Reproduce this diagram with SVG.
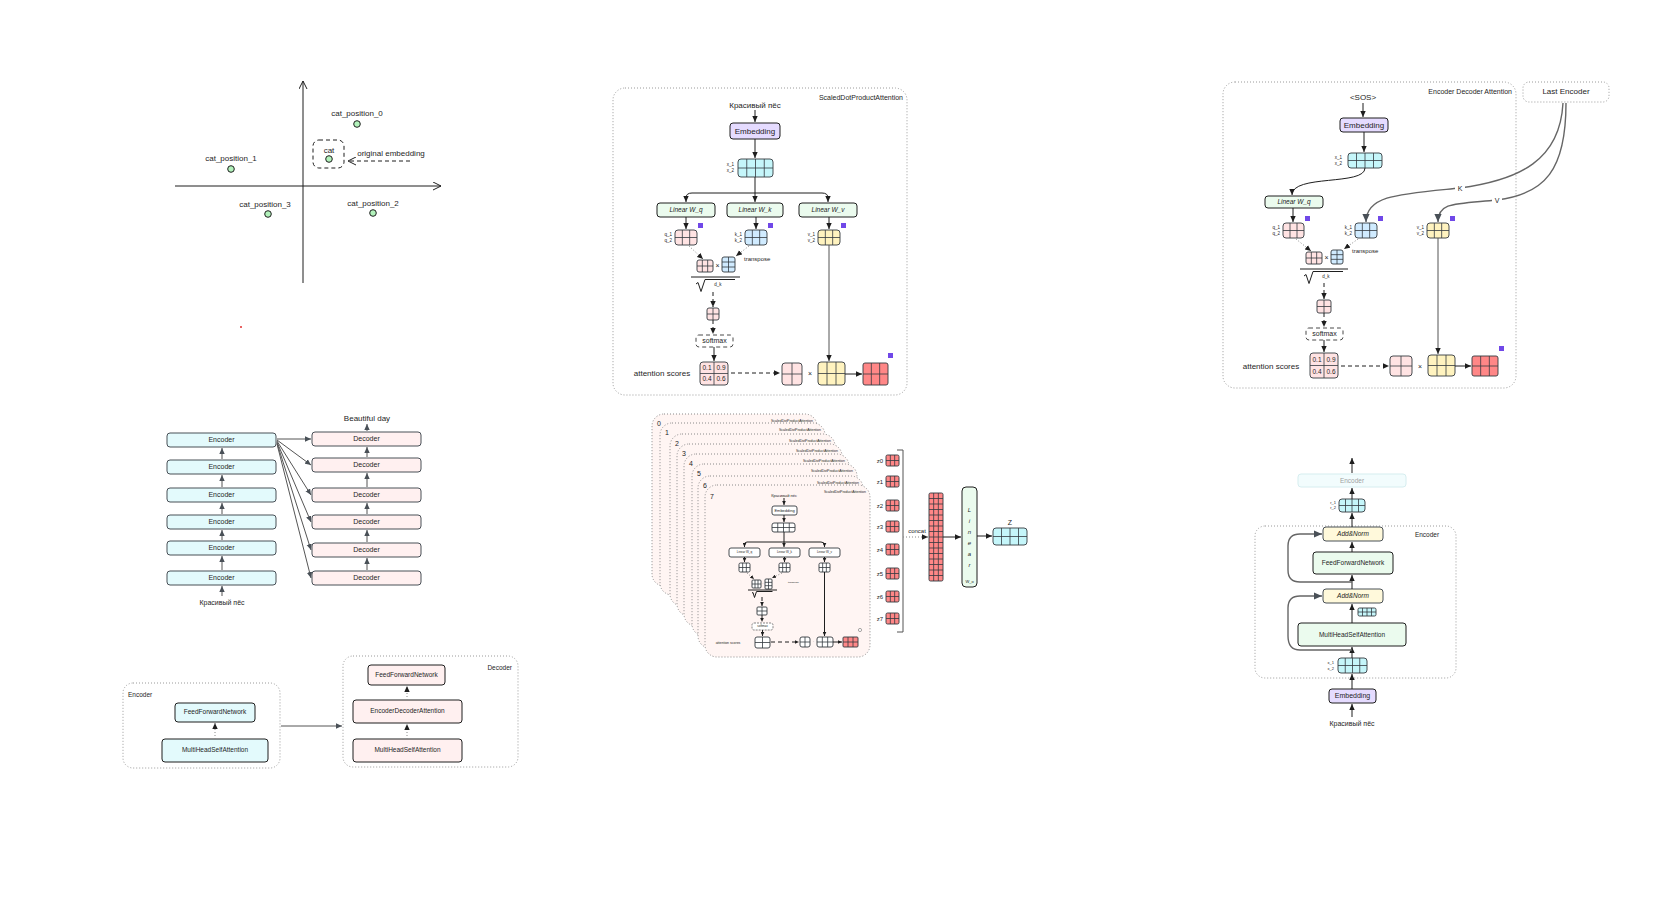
<svg xmlns="http://www.w3.org/2000/svg" width="1670" height="916" viewBox="0 0 1670 916">
<defs>
<style>
.t{font-family:"Liberation Sans",Arial,sans-serif;fill:#1e1e1e;text-anchor:middle;dominant-baseline:middle}
.ts{text-anchor:start}
.te{text-anchor:end}
.it{font-style:italic}
.s{stroke:#1e1e1e;stroke-width:1;fill:none}
.g{stroke:#555;stroke-width:1;fill:none}
.gs{stroke:#666;stroke-width:1.4;fill:none}
.dt{stroke:#9a9a9a;stroke-width:1;stroke-dasharray:1 2;fill:none}
.dd{stroke:#1e1e1e;stroke-width:1;stroke-dasharray:4 3;fill:none}
.dp{stroke:#888;stroke-width:1;stroke-dasharray:1 2;fill:none}
.grid{stroke:#343a40;stroke-width:0.8;fill:none}
.m{stroke:#343a40;stroke-width:0.9}
.cy{fill:#c5f6fa}.pk{fill:#ffe3e3}.bl{fill:#d0ebff}.yl{fill:#fff3bf}.rd{fill:#ff8787}.pu{fill:#7048e8}.wh{fill:#ffffff}
.emb{fill:#e5dbff;stroke:#1e1e1e;stroke-width:1}
.lin{fill:#ebfbee;stroke:#1e1e1e;stroke-width:1}
.enc{fill:#e3fafc;stroke:#495057;stroke-width:1}
.dec{fill:#fff0f0;stroke:#495057;stroke-width:1}
.an{fill:#fff9db;stroke:#495057;stroke-width:1}
.card{fill:#fff5f3;stroke:#8a8a8a;stroke-width:1;stroke-dasharray:1 2}
.pt{fill:#b2f2bb;stroke:#1e1e1e;stroke-width:1}
</style>
<marker id="a" viewBox="0 0 10 10" refX="10" refY="5" markerWidth="6" markerHeight="6" orient="auto-start-reverse"><path d="M0,0.5 L10,5 L0,9.5z" fill="#1e1e1e"/></marker>
<marker id="ag" viewBox="0 0 10 10" refX="10" refY="5" markerWidth="6" markerHeight="6" orient="auto-start-reverse"><path d="M0,0.5 L10,5 L0,9.5z" fill="#495057"/></marker>
<marker id="as" viewBox="0 0 10 10" refX="10" refY="5" markerWidth="4" markerHeight="4" orient="auto-start-reverse"><path d="M0,0.5 L10,5 L0,9.5z" fill="#1e1e1e"/></marker>
<marker id="ao" viewBox="0 0 10 10" refX="9" refY="5" markerWidth="9" markerHeight="9" orient="auto"><path d="M0,0.5 L9,5 L0,9.5" fill="none" stroke="#1e1e1e" stroke-width="1.1"/></marker>
</defs>
<rect width="1670" height="916" fill="#ffffff"/>

<!-- ============ Panel 1: embedding plot ============ -->
<g id="plot-axes">
<line class="s" x1="303" y1="283" x2="303" y2="81" marker-end="url(#ao)"/>
<line class="s" x1="175" y1="186" x2="441" y2="186" marker-end="url(#ao)"/>
</g>
<g id="cat_position_0"><text class="t" x="357" y="114" font-size="8">cat_position_0</text><circle class="pt" cx="357" cy="124" r="3.3"/></g>
<g id="cat"><rect x="313" y="140" width="31" height="28" rx="6" class="dd"/><text class="t" x="329" y="151" font-size="8">cat</text><circle class="pt" cx="329" cy="159" r="3.3"/></g>
<g id="cat_position_1"><text class="t" x="231" y="159" font-size="8">cat_position_1</text><circle class="pt" cx="231" cy="169" r="3.3"/></g>
<g id="cat_position_3"><text class="t" x="265" y="205" font-size="8">cat_position_3</text><circle class="pt" cx="268" cy="214" r="3.3"/></g>
<g id="cat_position_2"><text class="t" x="373" y="204" font-size="8">cat_position_2</text><circle class="pt" cx="373" cy="213" r="3.3"/></g>
<g id="original-embedding-label"><text class="t" x="391" y="154" font-size="8">original embedding</text></g>
<g id="red-dot"><circle cx="241" cy="327" r="1" fill="#e03131"/></g>

<!-- ============ Panel 2: ScaledDotProductAttention ============ -->
<g id="sdpa-container"><rect x="613" y="88" width="294" height="307" rx="12" class="dt"/><text class="t te" x="903" y="98" font-size="7">ScaledDotProductAttention</text></g>
<g id="sdpa-input"><text class="t" x="755" y="106" font-size="8">Красивый пёс</text></g>
<g id="sdpa-embedding"><rect x="730" y="123" width="50" height="16" rx="3" class="emb"/><text class="t" x="755" y="131.5" font-size="8">Embedding</text></g>
<g id="sdpa-x"><rect x="738" y="159" width="35" height="18" rx="3" class="cy m"/><path class="grid" d="M746.75,159V177M755.5,159V177M764.25,159V177M738,168H773"/><text class="t te" x="734" y="165" font-size="4.5">x_1</text><text class="t te" x="734" y="171" font-size="4.5">x_2</text></g>
<g id="sdpa-wq"><rect x="657" y="203" width="58" height="14" rx="3" class="lin"/><text class="t it" x="686" y="210.5" font-size="6.5">Linear W_q</text></g>
<g id="sdpa-wk"><rect x="727" y="203" width="56" height="14" rx="3" class="lin"/><text class="t it" x="755" y="210.5" font-size="6.5">Linear W_k</text></g>
<g id="sdpa-wv"><rect x="799" y="203" width="58" height="14" rx="3" class="lin"/><text class="t it" x="828" y="210.5" font-size="6.5">Linear W_v</text></g>
<g id="sdpa-q"><rect x="675" y="230" width="22" height="15" rx="3" class="pk m"/><path class="grid" d="M682.33,230V245M689.67,230V245M675,237.5H697"/><rect x="698" y="223" width="5" height="5" class="pu"/><text class="t te" x="672" y="235" font-size="4.5">q_1</text><text class="t te" x="672" y="241" font-size="4.5">q_2</text></g>
<g id="sdpa-k"><rect x="745" y="230" width="22" height="15" rx="3" class="bl m"/><path class="grid" d="M752.33,230V245M759.67,230V245M745,237.5H767"/><rect x="768" y="223" width="5" height="5" class="pu"/><text class="t te" x="742" y="235" font-size="4.5">k_1</text><text class="t te" x="742" y="241" font-size="4.5">k_2</text></g>
<g id="sdpa-v"><rect x="818" y="230" width="22" height="15" rx="3" class="yl m"/><path class="grid" d="M825.33,230V245M832.67,230V245M818,237.5H840"/><rect x="841" y="223" width="5" height="5" class="pu"/><text class="t te" x="815" y="235" font-size="4.5">v_1</text><text class="t te" x="815" y="241" font-size="4.5">v_2</text></g>
<g id="sdpa-qkt"><rect x="697" y="260" width="16" height="12" rx="2" class="pk m"/><path class="grid" d="M702.33,260V272M707.67,260V272M697,266H713"/><text class="t" x="717.5" y="266" font-size="7">×</text><rect x="722" y="257" width="13" height="15" rx="2" class="bl m"/><path class="grid" d="M728.5,257V272M722,262H735M722,267H735"/><text class="t ts" x="744" y="259" font-size="6">transpose</text>
<line class="s" x1="691" y1="277" x2="740" y2="277"/><path class="s" d="M696,284 l2,-1.5 l3,9 l4,-12 h30"/><text class="t" x="718" y="285" font-size="4.5">d_k</text></g>
<g id="sdpa-scores-raw"><rect x="707" y="308" width="12" height="12" rx="2" class="pk m"/><path class="grid" d="M713,308V320M707,314H719"/></g>
<g id="sdpa-softmax"><rect x="696" y="335" width="37" height="12" rx="3" fill="#e7f5ff" class="dd" style="stroke:#4a4a4a"/><text class="t" x="714.5" y="341.5" font-size="7">softmax</text></g>
<g id="sdpa-attn"><rect x="700" y="362" width="28" height="23" rx="3" class="pk m"/><path class="grid" d="M714,362V385M700,373.5H728"/><text class="t" x="707" y="368.5" font-size="6.5">0.1</text><text class="t" x="721" y="368.5" font-size="6.5">0.9</text><text class="t" x="707" y="379.5" font-size="6.5">0.4</text><text class="t" x="721" y="379.5" font-size="6.5">0.6</text><text class="t" x="662" y="374" font-size="8">attention scores</text></g>
<g id="sdpa-weights"><rect x="782" y="363" width="20" height="22" rx="3" class="pk m"/><path class="grid" d="M792,363V385M782,374H802"/><text class="t" x="810" y="374" font-size="7">×</text></g>
<g id="sdpa-vmul"><rect x="818" y="362" width="27" height="23" rx="3" class="yl m"/><path class="grid" d="M827,362V385M836,362V385M818,373.5H845"/></g>
<g id="sdpa-z"><rect x="863" y="363" width="25" height="22" rx="2" class="rd m"/><path class="grid" d="M871.33,363V385M879.67,363V385M863,374H888"/><rect x="888" y="353" width="5" height="5" class="pu"/></g>

<!-- ============ Panel 3: Encoder Decoder Attention ============ -->
<g id="eda-container"><rect x="1223" y="82" width="293" height="306" rx="12" class="dt"/><text class="t te" x="1512" y="92" font-size="7">Encoder Decoder Attention</text></g>
<g id="last-encoder"><rect x="1523" y="82" width="86" height="20" rx="6" class="dt"/><text class="t" x="1566" y="92" font-size="8">Last Encoder</text></g>
<g id="eda-sos"><text class="t" x="1363" y="98" font-size="8">&lt;SOS&gt;</text></g>
<g id="eda-embedding"><rect x="1340" y="118" width="48" height="14" rx="3" class="emb"/><text class="t" x="1364" y="125.5" font-size="8">Embedding</text></g>
<g id="eda-x"><rect x="1348" y="153" width="34" height="15" rx="3" class="cy m"/><path class="grid" d="M1356.5,153V168M1365,153V168M1373.5,153V168M1348,160.5H1382"/><text class="t te" x="1342" y="158" font-size="4.5">x_1</text><text class="t te" x="1342" y="164" font-size="4.5">x_2</text></g>
<g id="eda-wq"><rect x="1265" y="196" width="58" height="12" rx="3" class="lin"/><text class="t it" x="1294" y="202.5" font-size="6.5">Linear W_q</text></g>
<g id="eda-q"><rect x="1283" y="223" width="21" height="15" rx="3" class="pk m"/><path class="grid" d="M1290,223V238M1297,223V238M1283,230.5H1304"/><rect x="1305" y="216" width="5" height="5" class="pu"/><text class="t te" x="1280" y="228" font-size="4.5">q_1</text><text class="t te" x="1280" y="234" font-size="4.5">q_2</text></g>
<g id="eda-k"><rect x="1355" y="223" width="22" height="15" rx="3" class="bl m"/><path class="grid" d="M1362.33,223V238M1369.67,223V238M1355,230.5H1377"/><rect x="1378" y="216" width="5" height="5" class="pu"/><text class="t te" x="1352" y="228" font-size="4.5">k_1</text><text class="t te" x="1352" y="234" font-size="4.5">k_2</text></g>
<g id="eda-v"><rect x="1427" y="223" width="22" height="15" rx="3" class="yl m"/><path class="grid" d="M1434.33,223V238M1441.67,223V238M1427,230.5H1449"/><rect x="1450" y="216" width="5" height="5" class="pu"/><text class="t te" x="1424" y="228" font-size="4.5">v_1</text><text class="t te" x="1424" y="234" font-size="4.5">v_2</text></g>
<g id="eda-qkt"><rect x="1306" y="252" width="16" height="12" rx="2" class="pk m"/><path class="grid" d="M1311.33,252V264M1316.67,252V264M1306,258H1322"/><text class="t" x="1326.5" y="258" font-size="7">×</text><rect x="1331" y="250" width="12" height="14" rx="2" class="bl m"/><path class="grid" d="M1337,250V264M1331,254.67H1343M1331,259.33H1343"/><text class="t ts" x="1352" y="251" font-size="6">transpose</text>
<line class="s" x1="1300" y1="269" x2="1348" y2="269"/><path class="s" d="M1304,276 l2,-1.5 l3,9 l4,-12 h30"/><text class="t" x="1326" y="277" font-size="4.5">d_k</text></g>
<g id="eda-scores-raw"><rect x="1317" y="300" width="14" height="13" rx="2" class="pk m"/><path class="grid" d="M1324,300V313M1317,306.5H1331"/></g>
<g id="eda-softmax"><rect x="1306" y="328" width="37" height="12" rx="3" fill="#e7f5ff" class="dd" style="stroke:#4a4a4a"/><text class="t" x="1324.5" y="334.5" font-size="7">softmax</text></g>
<g id="eda-attn"><rect x="1310" y="353" width="28" height="25" rx="3" class="pk m"/><path class="grid" d="M1324,353V378M1310,365.5H1338"/><text class="t" x="1317" y="360" font-size="6.5">0.1</text><text class="t" x="1331" y="360" font-size="6.5">0.9</text><text class="t" x="1317" y="372" font-size="6.5">0.4</text><text class="t" x="1331" y="372" font-size="6.5">0.6</text><text class="t" x="1271" y="367" font-size="8">attention scores</text></g>
<g id="eda-weights"><rect x="1390" y="356" width="22" height="20" rx="3" class="pk m"/><path class="grid" d="M1401,356V376M1390,366H1412"/><text class="t" x="1420" y="367" font-size="7">×</text></g>
<g id="eda-vmul"><rect x="1428" y="355" width="27" height="21" rx="3" class="yl m"/><path class="grid" d="M1437,355V376M1446,355V376M1428,365.5H1455"/></g>
<g id="eda-z"><rect x="1472" y="356" width="26" height="20" rx="2" class="rd m"/><path class="grid" d="M1480.67,356V376M1489.33,356V376M1472,366H1498"/><rect x="1499" y="346" width="5" height="5" class="pu"/></g>

<!-- ============ Panel 4: encoder / decoder stacks ============ -->
<g id="enc1"><rect x="167" y="433" width="109" height="14" rx="3" class="enc"/><text class="t" x="221.5" y="440.5" font-size="7">Encoder</text></g>
<g id="enc2"><rect x="167" y="460" width="109" height="14" rx="3" class="enc"/><text class="t" x="221.5" y="467.5" font-size="7">Encoder</text></g>
<g id="enc3"><rect x="167" y="488" width="109" height="14" rx="3" class="enc"/><text class="t" x="221.5" y="495.5" font-size="7">Encoder</text></g>
<g id="enc4"><rect x="167" y="515" width="109" height="14" rx="3" class="enc"/><text class="t" x="221.5" y="522.5" font-size="7">Encoder</text></g>
<g id="enc5"><rect x="167" y="541" width="109" height="14" rx="3" class="enc"/><text class="t" x="221.5" y="548.5" font-size="7">Encoder</text></g>
<g id="enc6"><rect x="167" y="571" width="109" height="14" rx="3" class="enc"/><text class="t" x="221.5" y="578.5" font-size="7">Encoder</text></g>
<g id="enc-input"><text class="t" x="222" y="603" font-size="7">Красивый пёс</text></g>
<g id="dec1"><rect x="312" y="432" width="109" height="14" rx="3" class="dec"/><text class="t" x="366.5" y="439.5" font-size="7">Decoder</text></g>
<g id="dec2"><rect x="312" y="458" width="109" height="14" rx="3" class="dec"/><text class="t" x="366.5" y="465.5" font-size="7">Decoder</text></g>
<g id="dec3"><rect x="312" y="488" width="109" height="14" rx="3" class="dec"/><text class="t" x="366.5" y="495.5" font-size="7">Decoder</text></g>
<g id="dec4"><rect x="312" y="515" width="109" height="14" rx="3" class="dec"/><text class="t" x="366.5" y="522.5" font-size="7">Decoder</text></g>
<g id="dec5"><rect x="312" y="543" width="109" height="14" rx="3" class="dec"/><text class="t" x="366.5" y="550.5" font-size="7">Decoder</text></g>
<g id="dec6"><rect x="312" y="571" width="109" height="14" rx="3" class="dec"/><text class="t" x="366.5" y="578.5" font-size="7">Decoder</text></g>
<g id="dec-output"><text class="t" x="367" y="419" font-size="8">Beautiful day</text></g>

<!-- ============ Panel 5: encoder / decoder blocks ============ -->
<g id="blk-encoder"><rect x="123" y="683" width="157" height="85" rx="10" class="dt"/><text class="t ts" x="128" y="695" font-size="6.5">Encoder</text></g>
<g id="blk-enc-ffn"><rect x="175" y="703" width="80" height="19" rx="3" class="enc" style="stroke:#1e1e1e"/><text class="t" x="215" y="712.5" font-size="6.5">FeedForwardNetwork</text></g>
<g id="blk-enc-mhsa"><rect x="162" y="739" width="106" height="23" rx="3" class="enc" style="stroke:#1e1e1e"/><text class="t" x="215" y="750.5" font-size="6.5">MultiHeadSelfAttention</text></g>
<g id="blk-decoder"><rect x="343" y="656" width="175" height="111" rx="10" class="dt"/><text class="t te" x="512" y="668" font-size="6.5">Decoder</text></g>
<g id="blk-dec-ffn"><rect x="368" y="665" width="77" height="20" rx="3" class="dec" style="stroke:#1e1e1e"/><text class="t" x="406.5" y="675" font-size="6.5">FeedForwardNetwork</text></g>
<g id="blk-dec-eda"><rect x="353" y="700" width="109" height="23" rx="3" class="dec" style="stroke:#1e1e1e"/><text class="t" x="407.5" y="711.5" font-size="6.5">EncoderDecoderAttention</text></g>
<g id="blk-dec-mhsa"><rect x="353" y="739" width="109" height="23" rx="3" class="dec" style="stroke:#1e1e1e"/><text class="t" x="407.5" y="750.5" font-size="6.5">MultiHeadSelfAttention</text></g>

<!-- ============ Panel 6: multi-head cards ============ -->
<g id="head0"><rect x="652" y="414" width="165" height="172" rx="12" class="card"/><text class="t te" x="813" y="421" font-size="3.5" fill="#555">ScaledDotProductAttention</text><text class="t ts" x="657" y="424" font-size="7">0</text></g>
<g id="head1"><rect x="660" y="423" width="165" height="172" rx="12" class="card"/><text class="t te" x="821" y="430" font-size="3.5" fill="#555">ScaledDotProductAttention</text><text class="t ts" x="665" y="433" font-size="7">1</text></g>
<g id="head2"><rect x="670" y="434" width="165" height="172" rx="12" class="card"/><text class="t te" x="831" y="441" font-size="3.5" fill="#555">ScaledDotProductAttention</text><text class="t ts" x="675" y="444" font-size="7">2</text></g>
<g id="head3"><rect x="677" y="444" width="165" height="172" rx="12" class="card"/><text class="t te" x="838" y="451" font-size="3.5" fill="#555">ScaledDotProductAttention</text><text class="t ts" x="682" y="454" font-size="7">3</text></g>
<g id="head4"><rect x="684" y="454" width="165" height="172" rx="12" class="card"/><text class="t te" x="845" y="461" font-size="3.5" fill="#555">ScaledDotProductAttention</text><text class="t ts" x="689" y="464" font-size="7">4</text></g>
<g id="head5"><rect x="692" y="464" width="165" height="172" rx="12" class="card"/><text class="t te" x="853" y="471" font-size="3.5" fill="#555">ScaledDotProductAttention</text><text class="t ts" x="697" y="474" font-size="7">5</text></g>
<g id="head6"><rect x="698" y="476" width="165" height="172" rx="12" class="card"/><text class="t te" x="859" y="483" font-size="3.5" fill="#555">ScaledDotProductAttention</text><text class="t ts" x="703" y="486" font-size="7">6</text></g>
<g id="head7"><rect x="705" y="485" width="165" height="172" rx="12" class="card"/><text class="t te" x="866" y="492" font-size="3.5" fill="#555">ScaledDotProductAttention</text><text class="t ts" x="710" y="497" font-size="7">7</text></g>
<g id="h7-input"><text class="t" x="784" y="496" font-size="4">Красивый пёс</text></g>
<g id="h7-embedding"><rect x="772" y="506" width="25" height="9" rx="2" class="wh m"/><text class="t" x="784.5" y="510.7" font-size="4">Embedding</text></g>
<g id="h7-x"><rect x="772" y="523" width="23" height="9" rx="2" class="wh m"/><path class="grid" d="M777.75,523V532M783.5,523V532M789.25,523V532M772,527.5H795"/></g>
<g id="h7-wq"><rect x="729" y="548" width="31" height="9" rx="2" class="wh m"/><text class="t" x="744.5" y="552.7" font-size="3">Linear W_q</text></g>
<g id="h7-wk"><rect x="769" y="548" width="31" height="9" rx="2" class="wh m"/><text class="t" x="784.5" y="552.7" font-size="3">Linear W_k</text></g>
<g id="h7-wv"><rect x="809" y="548" width="31" height="9" rx="2" class="wh m"/><text class="t" x="824.5" y="552.7" font-size="3">Linear W_v</text></g>
<g id="h7-q"><rect x="739" y="563" width="11" height="9" rx="1.5" class="wh m"/><path class="grid" d="M742.67,563V572M746.33,563V572M739,567.5H750"/></g>
<g id="h7-k"><rect x="779" y="563" width="11" height="9" rx="1.5" class="wh m"/><path class="grid" d="M782.67,563V572M786.33,563V572M779,567.5H790"/></g>
<g id="h7-v"><rect x="819" y="563" width="11" height="9" rx="1.5" class="wh m"/><path class="grid" d="M822.67,563V572M826.33,563V572M819,567.5H830"/></g>
<g id="h7-qkt"><rect x="752" y="580" width="9" height="8" rx="1" class="wh m"/><path class="grid" d="M755,580V588M758,580V588M752,584H761"/><text class="t" x="763" y="584" font-size="4">·</text><rect x="765" y="579" width="7" height="10" rx="1" class="wh m"/><path class="grid" d="M768.5,579V589M765,582.33H772M765,585.67H772"/><text class="t ts" x="788" y="582" font-size="2.5">transpose</text><line class="s" x1="748" y1="590" x2="777" y2="590" stroke-width="0.7"/><path class="s" stroke-width="0.6" d="M752,593 l1,-0.5 l1.5,5 l2,-6 h16"/></g>
<g id="h7-raw"><rect x="757" y="607" width="10" height="8" rx="1" class="wh m"/><path class="grid" d="M762,607V615M757,611H767"/></g>
<g id="h7-softmax"><rect x="752" y="623" width="21" height="7" rx="2" class="wh" stroke="#555" stroke-width="0.7" stroke-dasharray="2 1"/><text class="t" x="762.5" y="626.7" font-size="3">softmax</text></g>
<g id="h7-attn"><rect x="755" y="637" width="15" height="11" rx="2" class="wh m"/><path class="grid" d="M762.5,637V648M755,642.5H770"/><text class="t" x="728" y="643" font-size="3.5">attention scores</text></g>
<g id="h7-weights"><rect x="800" y="637" width="10" height="10" rx="2" class="wh m"/><path class="grid" d="M805,637V647M800,642H810"/><text class="t" x="813.5" y="642" font-size="4">·</text></g>
<g id="h7-vmul"><rect x="817" y="637" width="16" height="10" rx="2" class="wh m"/><path class="grid" d="M822.33,637V647M827.67,637V647M817,642H833"/></g>
<g id="h7-z"><rect x="843" y="637" width="15" height="10" rx="1" class="rd m"/><path class="grid" d="M848,637V647M853,637V647M843,642H858"/><circle cx="860" cy="630" r="1.6" fill="#fff" stroke="#555" stroke-width="0.5"/></g>

<!-- z list -->
<g id="z0"><text class="t te" x="883" y="461" font-size="6">z0</text><rect x="886" y="455" width="13" height="11" rx="1.5" class="rd m"/><path class="grid" d="M890.33,455V466M894.67,455V466M886,460.5H899"/></g>
<g id="z1"><text class="t te" x="883" y="482" font-size="6">z1</text><rect x="886" y="476" width="13" height="11" rx="1.5" class="rd m"/><path class="grid" d="M890.33,476V487M894.67,476V487M886,481.5H899"/></g>
<g id="z2"><text class="t te" x="883" y="506" font-size="6">z2</text><rect x="886" y="500" width="13" height="11" rx="1.5" class="rd m"/><path class="grid" d="M890.33,500V511M894.67,500V511M886,505.5H899"/></g>
<g id="z3"><text class="t te" x="883" y="527" font-size="6">z3</text><rect x="886" y="521" width="13" height="11" rx="1.5" class="rd m"/><path class="grid" d="M890.33,521V532M894.67,521V532M886,526.5H899"/></g>
<g id="z4"><text class="t te" x="883" y="550" font-size="6">z4</text><rect x="886" y="544" width="13" height="11" rx="1.5" class="rd m"/><path class="grid" d="M890.33,544V555M894.67,544V555M886,549.5H899"/></g>
<g id="z5"><text class="t te" x="883" y="574" font-size="6">z5</text><rect x="886" y="568" width="13" height="11" rx="1.5" class="rd m"/><path class="grid" d="M890.33,568V579M894.67,568V579M886,573.5H899"/></g>
<g id="z6"><text class="t te" x="883" y="597" font-size="6">z6</text><rect x="886" y="591" width="13" height="11" rx="1.5" class="rd m"/><path class="grid" d="M890.33,591V602M894.67,591V602M886,596.5H899"/></g>
<g id="z7"><text class="t te" x="883" y="619" font-size="6">z7</text><rect x="886" y="613" width="13" height="11" rx="1.5" class="rd m"/><path class="grid" d="M890.33,613V624M894.67,613V624M886,618.5H899"/></g>
<g id="bracket"><path class="g" d="M897,450H903V632H897"/><text class="t" x="917" y="531" font-size="6">concat</text></g>
<g id="concat-matrix"><rect x="929" y="493" width="14" height="88" rx="1.5" class="rd m"/><path class="grid" d="M933.67,493V581M938.33,493V581M929,498.5H943M929,504H943M929,509.5H943M929,515H943M929,520.5H943M929,526H943M929,531.5H943M929,537H943M929,542.5H943M929,548H943M929,553.5H943M929,559H943M929,564.5H943M929,570H943M929,575.5H943"/></g>
<g id="linear-wo"><rect x="962" y="487" width="15" height="100" rx="4" class="lin"/><text class="t it" x="969.5" y="510" font-size="6">L</text><text class="t it" x="969.5" y="521" font-size="6">i</text><text class="t it" x="969.5" y="532" font-size="6">n</text><text class="t it" x="969.5" y="543" font-size="6">e</text><text class="t it" x="969.5" y="554" font-size="6">a</text><text class="t it" x="969.5" y="565" font-size="6">r</text><text class="t" x="969.5" y="582" font-size="4">W_o</text></g>
<g id="z-out"><text class="t" x="1010" y="523" font-size="7">Z</text><rect x="993" y="528" width="34" height="17" rx="3" class="cy m"/><path class="grid" d="M1001.5,528V545M1010,528V545M1018.5,528V545M993,536.5H1027"/></g>

<!-- ============ Panel 7: encoder block detail ============ -->
<g id="r-next-encoder" opacity="0.45"><rect x="1298" y="474" width="108" height="13" rx="3" fill="#e3fafc" stroke="#a5d8dd" stroke-width="1"/><text class="t" x="1352" y="481" font-size="6.5" fill="#9bb">Encoder</text></g>
<g id="r-out"><rect x="1339" y="499" width="26" height="13" rx="3" class="cy m"/><path class="grid" d="M1345.5,499V512M1352,499V512M1358.5,499V512M1339,505.5H1365"/><text class="t te" x="1336" y="503" font-size="4">r_1</text><text class="t te" x="1336" y="508" font-size="4">r_2</text></g>
<g id="r-encoder"><rect x="1255" y="526" width="201" height="152" rx="10" class="dt"/><text class="t" x="1427" y="535" font-size="6.5">Encoder</text></g>
<g id="r-addnorm2"><rect x="1323" y="527" width="60" height="14" rx="3" class="an"/><text class="t it" x="1353" y="534.5" font-size="6.5">Add&amp;Norm</text></g>
<g id="r-ffn"><rect x="1313" y="552" width="80" height="22" rx="3" class="lin"/><text class="t" x="1353" y="563.5" font-size="6.5">FeedForwardNetwork</text></g>
<g id="r-addnorm1"><rect x="1323" y="589" width="60" height="14" rx="3" class="an"/><text class="t it" x="1353" y="596.5" font-size="6.5">Add&amp;Norm</text></g>
<g id="r-mid"><rect x="1358" y="608" width="18" height="8" rx="1.5" class="cy m"/><path class="grid" d="M1362.5,608V616M1367,608V616M1371.5,608V616M1358,612H1376"/></g>
<g id="r-mhsa"><rect x="1298" y="623" width="108" height="23" rx="3" class="lin"/><text class="t" x="1352" y="635" font-size="6.5">MultiHeadSelfAttention</text></g>
<g id="r-x"><rect x="1338" y="658" width="29" height="15" rx="3" class="cy m"/><path class="grid" d="M1345.25,658V673M1352.5,658V673M1359.75,658V673M1338,665.5H1367"/><text class="t te" x="1334" y="663" font-size="4">x_1</text><text class="t te" x="1334" y="669" font-size="4">x_2</text></g>
<g id="r-embedding"><rect x="1329" y="689" width="47" height="14" rx="3" class="emb"/><text class="t" x="1352.5" y="696.5" font-size="7">Embedding</text></g>
<g id="r-input"><text class="t" x="1352" y="724" font-size="7">Красивый пёс</text></g>

<!-- ============ Connectors ============ -->
<g id="connectors">
<!-- panel 1 -->
<line class="dd" x1="410" y1="161" x2="348" y2="161" marker-end="url(#ao)"/>
<!-- panel 2 -->
<line class="s" x1="755" y1="110" x2="755" y2="122" marker-end="url(#a)"/>
<line class="s" x1="755" y1="139" x2="755" y2="158" marker-end="url(#a)"/>
<line class="s" x1="755" y1="177" x2="755" y2="202" marker-end="url(#a)"/>
<path class="s" d="M755,193H692Q686,193 686,198V202" marker-end="url(#a)"/>
<path class="s" d="M755,193H822Q828,193 828,198V202" marker-end="url(#a)"/>
<line class="s" x1="686" y1="217" x2="686" y2="229" marker-end="url(#a)"/>
<line class="s" x1="756" y1="217" x2="756" y2="229" marker-end="url(#a)"/>
<line class="s" x1="829" y1="217" x2="829" y2="229" marker-end="url(#a)"/>
<line class="dp" x1="689" y1="246" x2="703" y2="259" marker-end="url(#a)"/>
<line class="dp" x1="749" y1="246" x2="736" y2="256" marker-end="url(#a)"/>
<line class="dd" x1="713" y1="292" x2="713" y2="307" marker-end="url(#a)"/>
<line class="dd" x1="713" y1="320" x2="713" y2="334" marker-end="url(#a)"/>
<line class="s" x1="714" y1="347" x2="714" y2="361" marker-end="url(#a)"/>
<line class="dd" x1="731" y1="373" x2="780" y2="373" marker-end="url(#a)"/>
<line class="g" x1="829" y1="245" x2="829" y2="361" marker-end="url(#a)"/>
<line class="s" x1="845" y1="374" x2="862" y2="374" marker-end="url(#a)"/>
<!-- panel 3 -->
<line class="s" x1="1363" y1="103" x2="1363" y2="117" marker-end="url(#a)"/>
<line class="s" x1="1364" y1="132" x2="1364" y2="152" marker-end="url(#a)"/>
<path class="s" d="M1365,168C1365,186 1292,174 1292,195" marker-end="url(#a)"/>
<line class="s" x1="1293" y1="208" x2="1293" y2="222" marker-end="url(#a)"/>
<path class="gs" d="M1563,103C1560,160 1520,180 1460,188C1400,194 1366,195 1366,222" marker-end="url(#ag)"/>
<path class="gs" d="M1566,103C1566,170 1545,194 1497,200C1455,204 1438,202 1438,222" marker-end="url(#ag)"/>
<line class="dp" x1="1296" y1="239" x2="1311" y2="251" marker-end="url(#a)"/>
<line class="dp" x1="1358" y1="239" x2="1344" y2="249" marker-end="url(#a)"/>
<line class="dd" x1="1324" y1="283" x2="1324" y2="299" marker-end="url(#a)"/>
<line class="dd" x1="1324" y1="313" x2="1324" y2="327" marker-end="url(#a)"/>
<line class="s" x1="1324" y1="340" x2="1324" y2="352" marker-end="url(#a)"/>
<line class="dd" x1="1341" y1="366" x2="1389" y2="366" marker-end="url(#a)"/>
<line class="g" x1="1438" y1="238" x2="1438" y2="354" marker-end="url(#a)"/>
<line class="s" x1="1455" y1="366" x2="1471" y2="366" marker-end="url(#a)"/>
<!-- panel 4 -->
<line class="g" x1="222" y1="596" x2="222" y2="586" marker-end="url(#ag)"/>
<line class="g" x1="222" y1="570" x2="222" y2="556" marker-end="url(#ag)"/>
<line class="g" x1="222" y1="540" x2="222" y2="530" marker-end="url(#ag)"/>
<line class="g" x1="222" y1="514" x2="222" y2="503" marker-end="url(#ag)"/>
<line class="g" x1="222" y1="487" x2="222" y2="475" marker-end="url(#ag)"/>
<line class="g" x1="222" y1="459" x2="222" y2="448" marker-end="url(#ag)"/>
<line class="g" x1="367" y1="570" x2="367" y2="558" marker-end="url(#ag)"/>
<line class="g" x1="367" y1="542" x2="367" y2="530" marker-end="url(#ag)"/>
<line class="g" x1="367" y1="514" x2="367" y2="503" marker-end="url(#ag)"/>
<line class="g" x1="367" y1="487" x2="367" y2="473" marker-end="url(#ag)"/>
<line class="g" x1="367" y1="457" x2="367" y2="447" marker-end="url(#ag)"/>
<line class="g" x1="367" y1="431" x2="367" y2="424" marker-end="url(#ag)"/>
<line class="g" x1="277" y1="439" x2="311" y2="439" marker-end="url(#ag)"/>
<line class="g" x1="277" y1="440" x2="311" y2="465" marker-end="url(#ag)"/>
<line class="g" x1="277" y1="441" x2="311" y2="495" marker-end="url(#ag)"/>
<line class="g" x1="277" y1="442" x2="311" y2="522" marker-end="url(#ag)"/>
<line class="g" x1="277" y1="443" x2="311" y2="550" marker-end="url(#ag)"/>
<line class="g" x1="277" y1="444" x2="311" y2="578" marker-end="url(#ag)"/>
<!-- panel 5 -->
<line class="dp" x1="215" y1="739" x2="215" y2="723" marker-end="url(#a)"/>
<line class="g" x1="281" y1="726" x2="342" y2="726" marker-end="url(#ag)"/>
<line class="dp" x1="407" y1="739" x2="407" y2="724" marker-end="url(#a)"/>
<line class="dp" x1="407" y1="700" x2="407" y2="686" marker-end="url(#a)"/>
<!-- panel 6 head 7 -->
<line class="s" stroke-width="0.7" x1="784" y1="498" x2="784" y2="505" marker-end="url(#as)"/>
<line class="s" stroke-width="0.7" x1="784" y1="515" x2="784" y2="522" marker-end="url(#as)"/>
<line class="s" stroke-width="0.7" x1="784" y1="532" x2="784" y2="547" marker-end="url(#as)"/>
<path class="s" stroke-width="0.7" d="M784,542H747Q744.5,542 744.5,545V547" marker-end="url(#as)"/>
<path class="s" stroke-width="0.7" d="M784,542H821Q824.5,542 824.5,545V547" marker-end="url(#as)"/>
<line class="s" stroke-width="0.7" x1="744.5" y1="557" x2="744.5" y2="562" marker-end="url(#as)"/>
<line class="s" stroke-width="0.7" x1="784.5" y1="557" x2="784.5" y2="562" marker-end="url(#as)"/>
<line class="s" stroke-width="0.7" x1="824.5" y1="557" x2="824.5" y2="562" marker-end="url(#as)"/>
<line class="dp" stroke-width="0.7" x1="747" y1="573" x2="754" y2="579" marker-end="url(#as)"/>
<line class="dp" stroke-width="0.7" x1="782" y1="573" x2="772" y2="578" marker-end="url(#as)"/>
<line class="dd" stroke-width="0.7" x1="762" y1="597" x2="762" y2="606" marker-end="url(#as)"/>
<line class="dd" stroke-width="0.7" x1="762" y1="615" x2="762" y2="622" marker-end="url(#as)"/>
<line class="s" stroke-width="0.7" x1="762.5" y1="630" x2="762.5" y2="636" marker-end="url(#as)"/>
<line class="dd" stroke-width="0.7" x1="771" y1="642" x2="799" y2="642" marker-end="url(#as)"/>
<line class="s" stroke-width="0.7" x1="824.5" y1="572" x2="824.5" y2="636" marker-end="url(#as)"/>
<line class="s" stroke-width="0.7" x1="833" y1="642" x2="842" y2="642" marker-end="url(#as)"/>
<!-- concat / linear -->
<line class="dp" x1="903" y1="537" x2="928" y2="537" marker-end="url(#a)"/>
<line class="s" x1="943" y1="537" x2="961" y2="537" marker-end="url(#a)"/>
<line class="s" x1="977" y1="536" x2="992" y2="536" marker-end="url(#a)"/>
<!-- panel 7 -->
<line class="s" x1="1352" y1="473" x2="1352" y2="458" marker-end="url(#a)"/>
<line class="s" x1="1352" y1="499" x2="1352" y2="488" marker-end="url(#a)"/>
<line class="s" x1="1352" y1="527" x2="1352" y2="513" marker-end="url(#a)"/>
<line class="s" x1="1352" y1="552" x2="1352" y2="542" marker-end="url(#a)"/>
<line class="s" x1="1352" y1="589" x2="1352" y2="575" marker-end="url(#a)"/>
<line class="s" x1="1352" y1="623" x2="1352" y2="604" marker-end="url(#a)"/>
<line class="s" x1="1352" y1="658" x2="1352" y2="647" marker-end="url(#a)"/>
<line class="s" x1="1352" y1="689" x2="1352" y2="674" marker-end="url(#a)"/>
<line class="s" x1="1352" y1="717" x2="1352" y2="704" marker-end="url(#a)"/>
<path class="gs" d="M1352,650H1300Q1288,650 1288,636V608Q1288,596 1300,596H1322" marker-end="url(#ag)"/>
<path class="gs" d="M1352,582H1300Q1288,582 1288,570V546Q1288,534 1300,534H1322" marker-end="url(#ag)"/>
</g>
<g id="edge-labels">
<rect x="1455" y="184" width="10" height="9" fill="#fff"/><text class="t" x="1460" y="189" font-size="7">K</text>
<rect x="1492" y="196" width="10" height="9" fill="#fff"/><text class="t" x="1497" y="201" font-size="7">V</text>
</g>
</svg>
